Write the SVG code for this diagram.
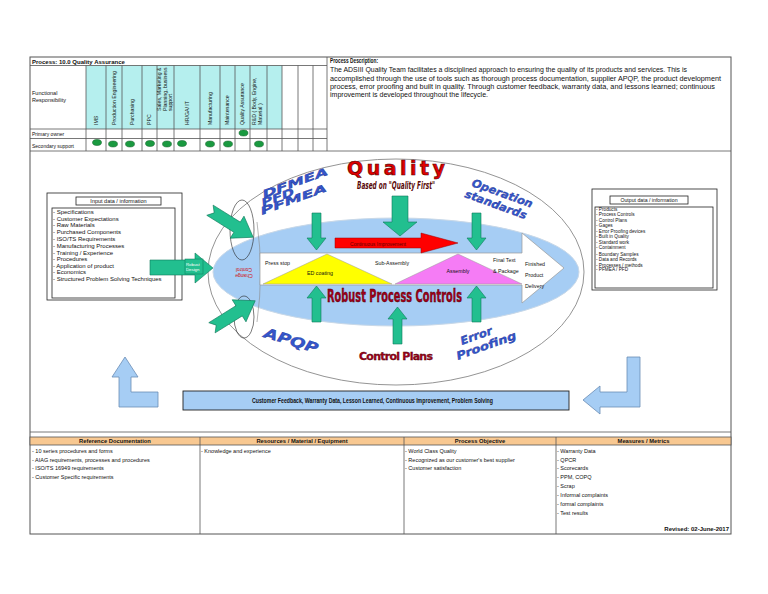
<svg xmlns="http://www.w3.org/2000/svg" width="768" height="594" viewBox="0 0 768 594">
<style>
.t{font-family:"Liberation Sans",Arial,sans-serif;fill:#111}
.b{font-weight:bold}
.ln{stroke:#555;stroke-width:0.8;fill:none}
.lt{stroke:#888;stroke-width:0.6;fill:none}
.grn{fill:#22bf8f;stroke:#0f7a5a;stroke-width:0.6}
.dot{fill:#1a9a40;stroke:#0b5a22;stroke-width:0.5}
.blu{font-family:"DejaVu Sans",sans-serif;font-weight:bold;font-style:italic;fill:#3456cc;stroke:#1b2c88;stroke-width:0.3}
.lblue{fill:#a6cdf4;stroke:#6b8db5;stroke-width:0.8}
.box{fill:#fff;stroke:#222;stroke-width:0.8}
</style>
<rect width="768" height="594" fill="#fff"/>

<g id="frame">
<rect x="30" y="57" width="701" height="477" fill="#fff" stroke="#555" stroke-width="1"/>
<line class="ln" x1="30" y1="151" x2="731" y2="151"/>
<line class="ln" x1="327" y1="57" x2="327" y2="151"/>
<line class="ln" x1="30" y1="432" x2="731" y2="432"/>
</g>

<g id="header-table">
<rect x="86" y="65.5" width="196" height="63.5" fill="#b5efee"/>
<line class="ln" x1="30" y1="65.5" x2="327" y2="65.5"/>
<line class="ln" x1="30" y1="129" x2="327" y2="129"/>
<line class="ln" x1="30" y1="138.5" x2="327" y2="138.5"/>
<g class="ln">
<line x1="86" y1="65.5" x2="86" y2="151"/><line x1="106" y1="65.5" x2="106" y2="151"/>
<line x1="122" y1="65.5" x2="122" y2="151"/><line x1="142" y1="65.5" x2="142" y2="151"/>
<line x1="157" y1="65.5" x2="157" y2="151"/><line x1="174" y1="65.5" x2="174" y2="151"/>
<line x1="200" y1="65.5" x2="200" y2="151"/><line x1="220" y1="65.5" x2="220" y2="151"/>
<line x1="235" y1="65.5" x2="235" y2="151"/><line x1="250" y1="65.5" x2="250" y2="151"/>
<line x1="267" y1="65.5" x2="267" y2="151"/><line x1="282" y1="65.5" x2="282" y2="151"/>
<line x1="298" y1="65.5" x2="298" y2="151"/><line x1="313" y1="65.5" x2="313" y2="151"/>
</g>
<text class="t b" x="32" y="63.5" font-size="6">Process: 10.0 Quality Assurance</text>
<text class="t" x="32" y="95" font-size="5.5">Functional</text>
<text class="t" x="32" y="102" font-size="5.5">Responsibility</text>
<text class="t" x="32" y="136" font-size="5">Primary owner</text>
<text class="t" x="32" y="147.5" font-size="5">Secondary support</text>
<g class="t" font-size="5.2">
<text transform="translate(97.8,125) rotate(-90)">IMS</text>
<text transform="translate(115.8,125) rotate(-90)">Production Engineering</text>
<text transform="translate(133.8,125) rotate(-90)">Purchasing</text>
<text transform="translate(151.3,125) rotate(-90)">PPC</text>
<text transform="translate(161,111) rotate(-90)">Sales, Marketing &amp;</text>
<text transform="translate(166.5,111) rotate(-90)">Planning, business</text>
<text transform="translate(172,111) rotate(-90)">support</text>
<text transform="translate(188.8,125) rotate(-90)">HR/GA/ IT</text>
<text transform="translate(211.8,125) rotate(-90)">Manufacturing</text>
<text transform="translate(229.3,125) rotate(-90)">Maintenance</text>
<text transform="translate(244.3,125) rotate(-90)">Quality Assurance</text>
<text transform="translate(256,125) rotate(-90)">R&amp;D ( Body, Engine,</text>
<text transform="translate(261.5,125) rotate(-90)">Material )</text>
</g>
<g class="dot">
<ellipse cx="243.5" cy="133" rx="4.5" ry="3"/>
<ellipse cx="97" cy="142.5" rx="4.5" ry="3"/>
<ellipse cx="113" cy="144" rx="4.5" ry="3"/>
<ellipse cx="130" cy="144" rx="4.5" ry="3"/>
<ellipse cx="150" cy="143.5" rx="4.5" ry="3"/>
<ellipse cx="167" cy="144" rx="4.5" ry="3"/>
<ellipse cx="182" cy="143.5" rx="4.5" ry="3"/>
<ellipse cx="210" cy="144" rx="4.5" ry="3"/>
<ellipse cx="228" cy="144" rx="4.5" ry="3"/>
<ellipse cx="259" cy="144" rx="4.5" ry="3"/>
</g>
</g>

<g id="process-description">
<text class="t b" x="330" y="62.6" font-size="6.5" textLength="48" lengthAdjust="spacingAndGlyphs">Process Description:</text>
<g class="t" font-size="6.6">
<text x="330" y="72.3" textLength="357" lengthAdjust="spacingAndGlyphs">The ADSIII Quality Team facilitates a disciplined approach to ensuring the quality of its products and services. This is</text>
<text x="330" y="80.6" textLength="391" lengthAdjust="spacingAndGlyphs">accomplished through the use of tools such as thorough process documentation, supplier APQP, the product development</text>
<text x="330" y="89" textLength="385" lengthAdjust="spacingAndGlyphs">process, error proofing and built in quality. Through customer feedback, warranty data, and lessons learned; continuous</text>
<text x="330" y="96.6" textLength="158" lengthAdjust="spacingAndGlyphs">improvement is developed throughout the lifecycle.</text>
</g>
</g>

<g id="input-box">
<rect class="box" x="47" y="193" width="135" height="107"/>
<rect class="box" x="76" y="197" width="85" height="8"/>
<text class="t" x="118.5" y="203.3" font-size="5.5" text-anchor="middle">Input data / information</text>
<rect class="box" x="52" y="208" width="123" height="90"/>
<g class="t" font-size="6">
<text x="53" y="213.7">- Specifications</text>
<text x="53" y="221">- Customer Expectations</text>
<text x="53" y="227.3">- Raw Materials</text>
<text x="53" y="234.3">- Purchased Components</text>
<text x="53" y="240.5">- ISO/TS Requirements</text>
<text x="53" y="247.5">- Manufacturing Processes</text>
<text x="53" y="254.5">- Training / Experience</text>
<text x="53" y="261">- Procedures</text>
<text x="53" y="267.7">- Application of product</text>
<text x="53" y="274.3">- Economics</text>
<text x="53" y="281">- Structured Problem Solving Techniques</text>
</g>
</g>

<g id="output-box">
<rect class="box" x="592" y="189" width="125" height="101"/>
<rect class="box" x="610" y="196" width="78" height="8"/>
<text class="t" x="649" y="202.3" font-size="5.2" text-anchor="middle">Output data / information</text>
<rect class="box" x="595" y="207" width="118" height="81"/>
<g class="t" font-size="4.7">
<text x="596" y="211">- Products</text>
<text x="596" y="216">- Process Controls</text>
<text x="596" y="221.7">- Control Plans</text>
<text x="596" y="227">- Gages</text>
<text x="596" y="233.2">- Error Proofing devices</text>
<text x="596" y="238.4">- Built in Quality</text>
<text x="596" y="244">- Standard work</text>
<text x="596" y="249.2">- Containment</text>
<text x="596" y="255.5">- Boundary Samples</text>
<text x="596" y="260.6">- Data and Records</text>
<text x="596" y="266.5">- Processes / methods</text>
<text x="596" y="271.4">- PFMEA / PFD</text>
</g>
</g>

<g id="quality-ring">
<ellipse cx="396" cy="272" rx="188" ry="113" fill="#fff" stroke="#888" stroke-width="0.9"/>
<ellipse cx="396" cy="272" rx="183" ry="54" fill="#a6cdf4" stroke="#c8d8e8" stroke-width="1"/>
<path class="lt" d="M257,222 Q264,272 257,322" stroke="#666"/>
<ellipse cx="242" cy="230" rx="12" ry="30" fill="none" stroke="#222" stroke-width="0.6"/>
<ellipse cx="244" cy="317" rx="10" ry="21" fill="none" stroke="#222" stroke-width="0.6"/>
</g>

<g id="process-flow">
<polygon points="260,253 522,253 522,233 564,268 522,303 522,285 260,285" fill="#fff" stroke="#999" stroke-width="0.7"/>
<polygon points="263,284 392,284 327,254" fill="#ffff00" stroke="#999" stroke-width="0.5"/>
<polygon points="395,284 522,284 458,254" fill="#f57cf5" stroke="#999" stroke-width="0.5"/>
<g class="t" font-size="5.3">
<text x="265" y="265">Press stop</text>
<text x="320" y="275" text-anchor="middle">ED coating</text>
<text x="392" y="265" text-anchor="middle">Sub-Assembly</text>
<text x="458" y="272.5" text-anchor="middle">Assembly</text>
<text x="493" y="262">Final Text</text>
<text x="493" y="273">&amp; Package</text>
<text x="525" y="265.5">Finished</text>
<text x="525" y="276.5">Product</text>
<text x="525" y="287.5">Delivery</text>
</g>
</g>

<g id="continuous-improvement">
<polygon points="335,238 421,238 421,233 458,243 421,253 421,248 335,248" fill="#ff0000" stroke="#990000" stroke-width="0.5"/>
<text class="t" x="378" y="245.8" font-size="5" text-anchor="middle" style="fill:#5a0000">Continuous Improvement</text>
</g>

<g id="green-arrows" class="grn">
<polygon points="392,196 408,196 408,222 417,222 400,236 383,222 392,222"/>
<polygon points="312,213 321,213 321,238 326,238 316.5,250 307,238 312,238"/>
<polygon points="472,213 481,213 481,238 486,238 476.5,250 467,238 472,238"/>
<polygon points="312,322 321,322 321,298 326,298 316.5,286 307,298 312,298"/>
<polygon points="472,322 481,322 481,298 486,298 476.5,286 467,298 472,298"/>
<polygon points="393,344 402,344 402,319 407,319 397.5,307 388,319 393,319"/>
<polygon points="150,260 195,260 195,253 213,268 195,283 195,275 150,275"/>
<polygon transform="translate(232,224) rotate(32)" points="-26,-6 6,-6 6,-13 25,0 6,13 6,6 -26,6 -21,0"/>
<polygon transform="translate(234,314) rotate(-32)" points="-26,-6 6,-6 6,-13 25,0 6,13 6,6 -26,6 -21,0"/>
</g>

<g id="robust-design">
<rect x="185" y="259" width="18" height="15" fill="#22bf8f" stroke="#0f7a5a" stroke-width="0.5"/>
<text class="t" x="186" y="265.5" font-size="4.3" style="fill:#fff">Robust</text>
<text class="t" x="186" y="271" font-size="4.3" style="fill:#fff">Design</text>
</g>

<g id="change-control" transform="rotate(180,244,272)">
<text class="t" x="244" y="270" font-size="5" text-anchor="middle" style="fill:#d01010">Change</text>
<text class="t" x="244" y="276" font-size="5" text-anchor="middle" style="fill:#d01010">Control</text>
</g>

<g id="ring-labels">
<text x="347" y="175" font-family="DejaVu Sans, sans-serif" font-weight="bold" font-size="19" fill="#e00000" stroke="#500000" stroke-width="0.6" textLength="98" lengthAdjust="spacing">Quality</text>
<text x="357" y="188.5" font-family="DejaVu Sans Condensed, DejaVu Sans, sans-serif" font-weight="bold" font-style="italic" font-size="11" fill="#5a0a0a" textLength="78" lengthAdjust="spacingAndGlyphs">Based on "Quality First"</text>
<text class="blu" transform="translate(264,198) rotate(-20)" font-size="10.5" textLength="69" lengthAdjust="spacingAndGlyphs">DFMEA</text>
<text class="blu" transform="translate(263,206.5) rotate(-20)" font-size="10.5" textLength="34" lengthAdjust="spacingAndGlyphs">PFD</text>
<text class="blu" transform="translate(262,215) rotate(-20)" font-size="10.5" textLength="70" lengthAdjust="spacingAndGlyphs">PFMEA</text>
<text class="blu" transform="translate(471,186) rotate(20)" font-size="11" textLength="64" lengthAdjust="spacingAndGlyphs">Operation</text>
<text class="blu" transform="translate(464,197) rotate(20)" font-size="11" textLength="65" lengthAdjust="spacingAndGlyphs">standards</text>
<text class="blu" transform="translate(263,337) rotate(17)" font-size="14" textLength="56" lengthAdjust="spacingAndGlyphs">APQP</text>
<text class="blu" transform="translate(462,345) rotate(-20)" font-size="11" textLength="33" lengthAdjust="spacingAndGlyphs">Error</text>
<text class="blu" transform="translate(458,360) rotate(-20)" font-size="11" textLength="63" lengthAdjust="spacingAndGlyphs">Proofing</text>
<text x="327" y="302" font-family="DejaVu Sans Condensed, DejaVu Sans, sans-serif" font-weight="bold" font-size="18" fill="#a0001a" stroke="#3a0000" stroke-width="0.4" textLength="135" lengthAdjust="spacingAndGlyphs">Robust Process Controls</text>
<text x="359" y="359.5" font-family="DejaVu Sans, sans-serif" font-weight="bold" font-size="11" fill="#a0001a" stroke="#3a0000" stroke-width="0.3" textLength="74" lengthAdjust="spacing">Control Plans</text>
</g>

<g id="feedback-loop">
<polygon class="lblue" points="125,357 138,377 131,377 131,392 158,392 158,407 119,407 119,377 112,377"/>
<polygon class="lblue" points="583,400 600,386 600,392 627,392 627,357 640,357 640,407 600,407 600,414"/>
<rect x="183" y="391" width="386" height="19" fill="#a6cdf4" stroke="#222" stroke-width="0.9"/>
<text class="t b" x="372.5" y="403.3" font-size="6.3" text-anchor="middle" textLength="241" lengthAdjust="spacingAndGlyphs">Customer Feedback, Warranty Data, Lesson Learned, Continuous Improvement, Problem Solving</text>
</g>

<g id="bottom-table">
<rect x="30" y="437" width="701" height="8" fill="#f8c891" stroke="#555" stroke-width="0.8"/>
<line class="ln" x1="200" y1="437" x2="200" y2="534"/>
<line class="ln" x1="404" y1="437" x2="404" y2="534"/>
<line class="ln" x1="556" y1="437" x2="556" y2="534"/>
<g class="t b" font-size="5.8" text-anchor="middle">
<text x="115" y="443.3">Reference Documentation</text>
<text x="302" y="443.3">Resources / Material / Equipment</text>
<text x="480" y="443.3">Process Objective</text>
<text x="643.5" y="443.3">Measures / Metrics</text>
</g>
<g class="t" font-size="5.5">
<text x="32" y="453">- 10 series procedures and forms</text>
<text x="32" y="461.7">- AIAG requirements, processes and procedures</text>
<text x="32" y="470.2">- ISO/TS 16949 requirements</text>
<text x="32" y="479">- Customer Specific requirements</text>
<text x="201" y="453">- Knowledge and experience</text>
<text x="405" y="452.5">- World Class Quality</text>
<text x="405" y="461.5">- Recognized as our customer's best supplier</text>
<text x="405" y="470">- Customer satisfaction</text>
<text x="557" y="452.5">- Warranty Data</text>
<text x="557" y="461.5">- QPCR</text>
<text x="557" y="470">- Scorecards</text>
<text x="557" y="479">- PPM, COPQ</text>
<text x="557" y="488">- Scrap</text>
<text x="557" y="497">- Informal complaints</text>
<text x="557" y="505.5">- formal complaints</text>
<text x="557" y="515">- Test results</text>
</g>
<text class="t b" x="729" y="531" font-size="6" text-anchor="end">Revised:  02-June-2017</text>
</g>
</svg>
